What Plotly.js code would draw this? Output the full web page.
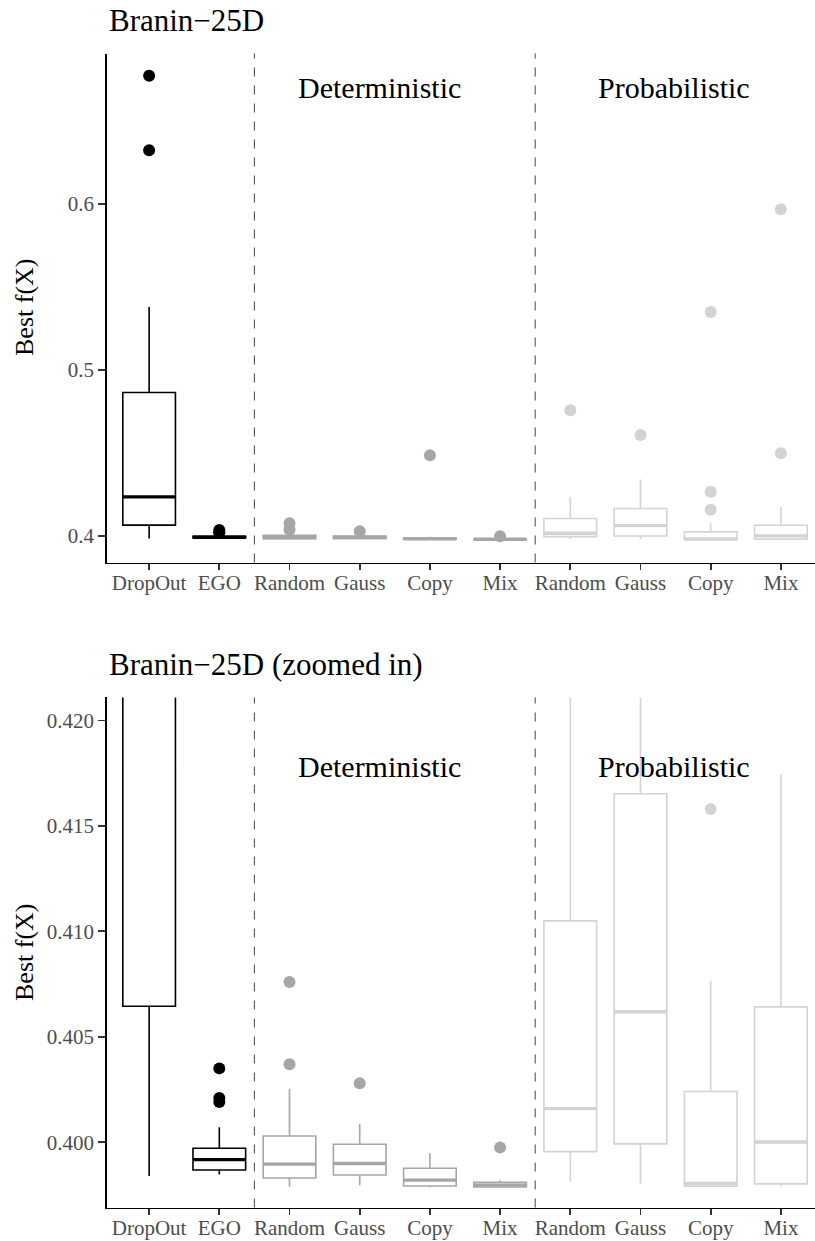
<!DOCTYPE html>
<html>
<head>
<meta charset="utf-8">
<script src="https://cdn.plot.ly/plotly-3.0.1.min.js"></script>
<style>html,body{margin:0;padding:0;background:#fff;}#chart{width:815px;height:1241px;}</style>
</head>
<body>
<div id="chart"></div>
<script>
// ---- data ----
const categories = ['DropOut','EGO','Random','Gauss','Copy','Mix','Random','Gauss','Copy','Mix'];
const groups     = ['base','base','det','det','det','det','prob','prob','prob','prob'];
const lowerFence = [0.3984, 0.39846, 0.39788, 0.39795, 0.39786, 0.39785, 0.39813, 0.39804, 0.39790, 0.39790];
const q1         = [0.40645, 0.39868, 0.39830, 0.39844, 0.39792, 0.39787, 0.39955, 0.39992, 0.39791, 0.39802];
const median     = [0.4235, 0.39917, 0.39896, 0.39899, 0.39820, 0.39796, 0.40159, 0.40619, 0.39804, 0.40001];
const q3         = [0.4864, 0.39971, 0.40029, 0.39990, 0.39876, 0.39809, 0.41050, 0.41653, 0.40240, 0.40642];
const upperFence = [0.5378, 0.40071, 0.40253, 0.40086, 0.39947, 0.39819, 0.4235, 0.4340, 0.40766, 0.41744];
const outliers   = [[0.6772, 0.6323], [0.4035, 0.4021, 0.4019], [0.4076, 0.4037], [0.4028], [0.4485], [0.39975],
                    [0.4757], [0.4607], [0.5349, 0.4266, 0.4158], [0.5967, 0.4497]];
const groupColors = {base: '#000000', det: '#A6A6A6', prob: '#D3D3D3'};
const sectionLabels = ['Deterministic', 'Probabilistic'];
const sectionLabelX = [4.28, 8.48];
const panelTitles = ['Branin\u221225D', 'Branin\u221225D (zoomed in)'];
const yTicksTop = [0.4, 0.5, 0.6];
const yTickTextTop = ['0.4', '0.5', '0.6'];
const yTicksBottom = [0.400, 0.405, 0.410, 0.415, 0.420];
const yTickTextBottom = ['0.400', '0.405', '0.410', '0.415', '0.420'];
const separators = [2.5, 6.5];

// ---- build traces ----
const positions = categories.map((c, i) => i + 1);
const boxW = 0.75;
const serif = 'Liberation Serif, Times New Roman, serif';

function panelTraces(xa, ya) {
  const traces = [];
  ['base', 'det', 'prob'].forEach(g => {
    const idx = positions.map((p, i) => i).filter(i => groups[i] === g);
    const col = groupColors[g];
    traces.push({
      type: 'box', xaxis: xa, yaxis: ya,
      x: idx.map(i => positions[i]),
      q1: idx.map(i => q1[i]), median: idx.map(i => median[i]), q3: idx.map(i => q3[i]),
      lowerfence: idx.map(i => lowerFence[i]), upperfence: idx.map(i => upperFence[i]),
      width: boxW, whiskerwidth: 0, boxpoints: false,
      fillcolor: 'rgba(255,255,255,0)', line: {color: col, width: 1.6},
      hoverinfo: 'skip', showlegend: false
    });
    // thicker median line (ggplot fatten)
    const mx = [], my = [];
    idx.forEach(i => { mx.push(positions[i] - boxW / 2, positions[i] + boxW / 2, null); my.push(median[i], median[i], null); });
    traces.push({type: 'scatter', mode: 'lines', xaxis: xa, yaxis: ya, x: mx, y: my,
      line: {color: col, width: 3.4}, hoverinfo: 'skip', showlegend: false, cliponaxis: true});
    // outliers
    const ox = [], oy = [];
    idx.forEach(i => outliers[i].forEach(v => { ox.push(positions[i]); oy.push(v); }));
    traces.push({type: 'scatter', mode: 'markers', xaxis: xa, yaxis: ya, x: ox, y: oy,
      marker: {color: col, size: 12}, hoverinfo: 'skip', showlegend: false, cliponaxis: true});
  });
  return traces;
}

const data = panelTraces('x', 'y').concat(panelTraces('x2', 'y2'));

const tickFont = {family: serif, size: 21, color: '#4D4D4D'};
function xAxis(anchor) {
  return {anchor: anchor, domain: [0, 1], range: [0.4, 10.486], tickvals: positions, ticktext: categories,
    showline: true, linecolor: '#000', linewidth: 1.8, ticks: 'outside', ticklen: 6, tickwidth: 1.8,
    ticklabelstandoff: -6,
    tickcolor: '#333', tickfont: tickFont, showgrid: false, zeroline: false, fixedrange: true};
}
function yAxis(anchor, domain, range, tv, tt) {
  return {anchor: anchor, domain: domain, range: range, tickvals: tv, ticktext: tt,
    showline: true, linecolor: '#000', linewidth: 1.8, ticks: 'outside', ticklen: 7, tickwidth: 1.8,
    tickcolor: '#333', tickfont: tickFont, showgrid: false, zeroline: false, fixedrange: true};
}

const H = 1241;
const shapes = [];
[['x', 'y'], ['x2', 'y2']].forEach(([xa, ya]) => separators.forEach(s => shapes.push({
  type: 'line', xref: xa, yref: ya + ' domain', x0: s, x1: s, y0: 0, y1: 1,
  line: {color: '#555555', width: 1.1, dash: 'dash'}
})));

const annotations = [];
// panel titles
[[21, panelTitles[0]], [664, panelTitles[1]]].forEach(([py, t]) => annotations.push({
  xref: 'paper', yref: 'paper', x: 0, y: 1 - py / H, xanchor: 'left', yanchor: 'middle',
  text: t, showarrow: false, font: {family: serif, size: 31, color: '#000'}
}));
// y axis titles
[308, 953].forEach(py => annotations.push({
  xref: 'paper', yref: 'paper', x: (24 - 107) / 708, y: 1 - py / H, xanchor: 'center', yanchor: 'middle',
  text: 'Best f(X)', textangle: -90, showarrow: false, font: {family: serif, size: 26, color: '#000'}
}));
// section labels
[['x', 'y', 0.670], ['x2', 'y2', 0.4178]].forEach(([xa, ya, yv]) => sectionLabels.forEach((s, k) => annotations.push({
  xref: xa, yref: ya, x: sectionLabelX[k], y: yv, xanchor: 'center', yanchor: 'middle',
  text: s, showarrow: false, font: {family: serif, size: 30, color: '#000'}
})));

const layout = {
  width: 815, height: 1241, margin: {l: 107, r: 0, t: 0, b: 0},
  paper_bgcolor: '#fff', plot_bgcolor: '#fff', boxmode: 'overlay', showlegend: false,
  xaxis: xAxis('y'),
  yaxis: yAxis('x', [1 - 562.6 / H, 1 - 53.6 / H], [0.3839, 0.6905], yTicksTop, yTickTextTop),
  xaxis2: xAxis('y2'),
  yaxis2: yAxis('x2', [1 - 1207.5 / H, 1 - 697.4 / H], [0.3969, 0.4211], yTicksBottom, yTickTextBottom),
  shapes: shapes, annotations: annotations
};

Plotly.newPlot('chart', data, layout, {displayModeBar: false, staticPlot: true});
</script>
</body>
</html>
